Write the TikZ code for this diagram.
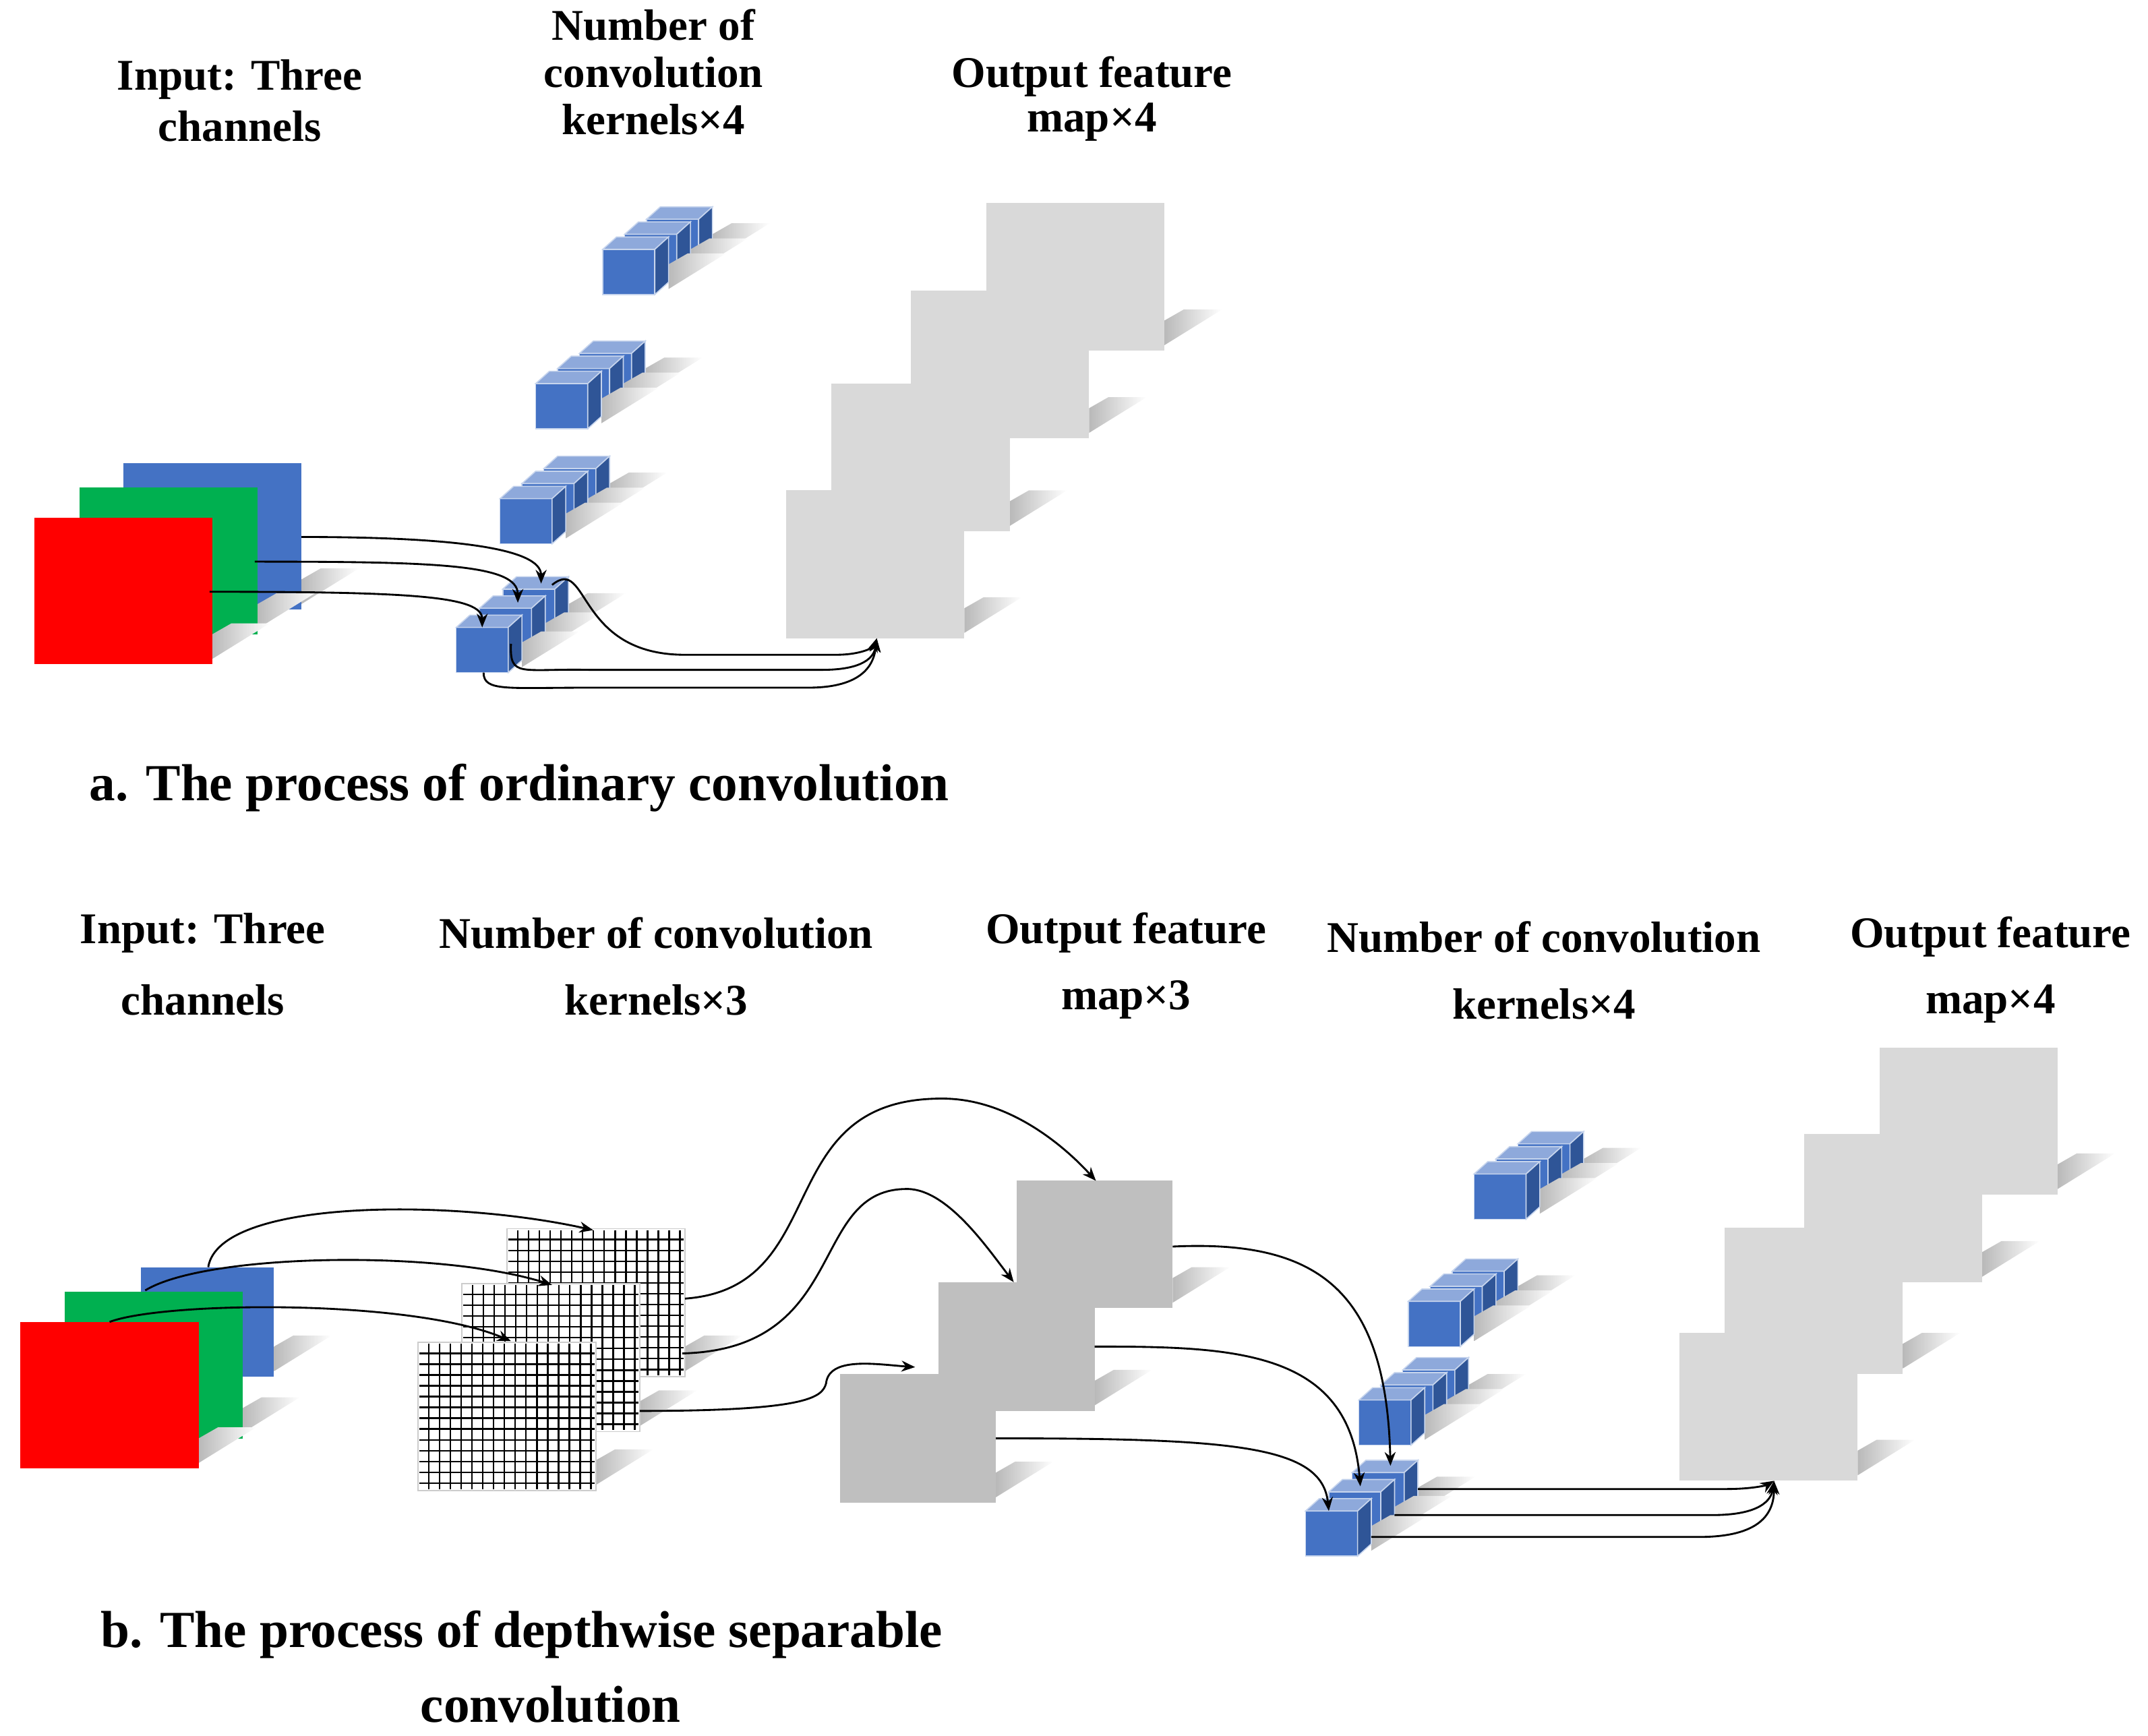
\documentclass[tikz,border=0pt]{standalone}
\usepackage{fontspec}
\setmainfont{Liberation Serif}
\usetikzlibrary{arrows.meta}
\definecolor{kfront}{HTML}{4472C4}
\definecolor{ktop}{HTML}{8EA9DB}
\definecolor{kside}{HTML}{2F5597}
\definecolor{mapL}{HTML}{D9D9D9}
\definecolor{mapD}{HTML}{BFBFBF}
\definecolor{chR}{HTML}{FF0000}
\definecolor{chG}{HTML}{00B050}
\definecolor{chB}{HTML}{4472C4}
\newcommand\shd[2]{\shade[left color=gray!55,right color=white] (#1,{#2-4}) -- ({#1+42},{#2-30}) -- ({#1+14},{#2-30}) -- (#1,{#2-22}) -- cycle;}
\newcommand\sqr[5]{\shd{#3}{#4}\fill[#5] (#1,#2) rectangle (#3,#4);}
\newcommand\cubeat[2]{%
 \shd{#1+48}{#2+33}
 \fill[kfront,draw=white!70!kfront,line width=0.4pt] (#1,#2) rectangle ({#1+38},{#2+33});
 \fill[ktop,draw=white!70!kfront,line width=0.4pt] (#1,#2) -- ({#1+10},{#2-9}) -- ({#1+48},{#2-9}) -- ({#1+38},#2) -- cycle;
 \fill[kside,draw=white!70!kfront,line width=0.4pt] ({#1+38},#2) -- ({#1+48},{#2-9}) -- ({#1+48},{#2+24}) -- ({#1+38},{#2+33}) -- cycle;}
\newcommand\kgrp[4]{\cubeat{#1+2*#3}{#2+2*#4}\cubeat{#1+#3}{#2+#4}\cubeat{#1}{#2}}
\newcommand\gridat[2]{%
 \shd{#1+130}{#2+108}
 \fill[white,draw=gray!40] (#1,#2) rectangle ({#1+130},{#2+108});
 \foreach \k in {1,...,16}{\draw[line width=0.6pt] ({#1+\k*7.9},{#2+1}) -- ({#1+\k*7.9},{#2+107});}
 \foreach \k in {1,...,13}{\draw[line width=0.6pt] ({#1+1},{#2+\k*7.9}) -- ({#1+129},{#2+\k*7.9});}}
\tikzset{lab/.style={font=\fontsize{16}{16}\selectfont\bfseries,align=center,inner sep=0pt},
 captxt/.style={font=\fontsize{19}{19}\selectfont\bfseries,inner sep=0pt},
 con/.style={line width=0.7pt,-{Stealth[length=5pt,width=4pt]}}}
\begin{document}
\begin{tikzpicture}[x=0.5pt,y=-0.5pt]
\useasboundingbox (0,0) rectangle (1568,1267);
% ---------- part a ----------
\node[lab] (la1) at (175,58) {Input: Three};
\node[lab] (la2) at (175,92) {channels};
\node[lab] (la3) at (477,18) {Number of};
\node[lab] (la4) at (477,53) {convolution};
\node[lab] (la5) at (477,87) {kernels×4};
\node[lab] (la6) at (797,56) {Output feature};
\node[lab] (la7) at (797,89) {map×4};
\sqr{90}{338}{220}{445}{chB}
\sqr{58}{356}{188}{463}{chG}
\sqr{25}{378}{155}{485}{chR}
\kgrp{440}{182}{16}{-11}
\kgrp{391}{280}{16}{-11}
\kgrp{365}{364}{16}{-11}
\kgrp{333}{458}{17}{-14}
\sqr{720}{148}{850}{256}{mapL}
\sqr{665}{212}{795}{320}{mapL}
\sqr{607}{280}{737}{388}{mapL}
\sqr{574}{358}{704}{466}{mapL}
\coordinate (aB) at (220,392); \coordinate (aG) at (186,410); \coordinate (aR) at (153,432);
\coordinate (aK3) at (395,426); \coordinate (aK2) at (378,440); \coordinate (aK1) at (352,458);
\coordinate (aK3o) at (403,427); \coordinate (aK2o) at (373,470); \coordinate (aK1o) at (353,491);
\coordinate (aM) at (640,466);
\draw[con] (aB) .. controls (330,392) and (395,400) .. (aK3);
\draw[con] (aG) .. controls (320,410) and (378,412) .. (aK2);
\draw[con] (aR) .. controls (300,432) and (352,435) .. (aK1);
\draw[con] (aK3o) .. controls (430,405) and (420,478) .. (500,478) -- (610,478) .. controls (630,478) and (638,472) .. (aM);
\draw[con] (aK2o) .. controls (372,495) and (380,488) .. (430,489) -- (600,489) .. controls (630,489) and (638,480) .. (aM);
\draw[con] (aK1o) .. controls (353,505) and (370,502) .. (430,502) -- (590,502) .. controls (630,502) and (638,485) .. (aM);
\node[captxt,anchor=west] (capa) at (65,575) {a. The process of ordinary convolution};
% ---------- part b ----------
\node[lab] (lb1) at (148,681) {Input: Three};
\node[lab] (lb2) at (148,730) {channels};
\node[lab] (lb3) at (479,681) {Number of convolution};
\node[lab] (lb4) at (479,730) {kernels×3};
\node[lab] (lb5) at (822,681) {Output feature};
\node[lab] (lb6) at (822,730) {map×3};
\node[lab] (lb7) at (1127,684) {Number of convolution};
\node[lab] (lb8) at (1127,733) {kernels×4};
\node[lab] (lb9) at (1453,684) {Output feature};
\node[lab] (lb10) at (1453,733) {map×4};
\sqr{103}{925}{200}{1005}{chB}
\sqr{47}{943}{177}{1050}{chG}
\sqr{15}{965}{145}{1072}{chR}
\gridat{370}{897}
\gridat{337}{937}
\gridat{305}{980}
\sqr{742}{862}{856}{955}{mapD}
\sqr{685}{936}{799}{1030}{mapD}
\sqr{613}{1003}{727}{1097}{mapD}
\kgrp{1076}{857}{16}{-11}
\kgrp{1028}{950}{16}{-11}
\kgrp{992}{1022}{16}{-11}
\kgrp{953}{1103}{17}{-14}
\sqr{1372}{765}{1502}{872}{mapL}
\sqr{1317}{828}{1447}{936}{mapL}
\sqr{1259}{896}{1389}{1003}{mapL}
\sqr{1226}{973}{1356}{1081}{mapL}
\coordinate (bB) at (152,925); \coordinate (bG) at (106,942); \coordinate (bR) at (80,965);
\coordinate (bg1) at (433,898); \coordinate (bg2) at (403,938); \coordinate (bg3) at (373,979);
\coordinate (bg1o) at (500,948); \coordinate (bg2o) at (498,988); \coordinate (bg3o) at (467,1030);
\coordinate (bm1) at (800,862); \coordinate (bm2) at (740,936); \coordinate (bm3) at (668,998);
\coordinate (bm1o) at (856,910); \coordinate (bm2o) at (799,983); \coordinate (bm3o) at (727,1050);
\coordinate (bk3) at (1015,1070); \coordinate (bk2) at (993,1085); \coordinate (bk1) at (970,1103);
\coordinate (bk3o) at (1035,1087); \coordinate (bk2o) at (1018,1106); \coordinate (bk1o) at (1001,1122);
\coordinate (bM) at (1295,1081);
\draw[con] (bB) .. controls (160,875) and (330,875) .. (bg1);
\draw[con] (bG) .. controls (150,915) and (320,912) .. (bg2);
\draw[con] (bR) .. controls (120,950) and (300,948) .. (bg3);
\draw[con] (bg1o) .. controls (610,940) and (560,800) .. (690,802) .. controls (740,803) and (780,840) .. (bm1);
\draw[con] (bg2o) .. controls (620,985) and (590,870) .. (660,868) .. controls (690,866) and (720,910) .. (bm2);
\draw[con] (bg3o) .. controls (590,1030) and (600,1020) .. (603,1010) .. controls (605,990) and (640,996) .. (bm3);
\draw[con] (bm1o) .. controls (960,905) and (1012,940) .. (bk3);
\draw[con] (bm2o) .. controls (900,983) and (985,985) .. (bk2);
\draw[con] (bm3o) .. controls (900,1050) and (965,1055) .. (bk1);
\draw[con] (bk3o) -- (1260,1087) .. controls (1280,1087) and (1290,1084) .. (bM);
\draw[con] (bk2o) -- (1250,1106) .. controls (1285,1106) and (1293,1095) .. (bM);
\draw[con] (bk1o) -- (1240,1122) .. controls (1285,1122) and (1295,1105) .. (bM);
\node[captxt,anchor=west] (capb1) at (73,1193) {b. The process of depthwise separable};
\node[captxt] (capb2) at (402,1244) {convolution};
\end{tikzpicture}
\end{document}
